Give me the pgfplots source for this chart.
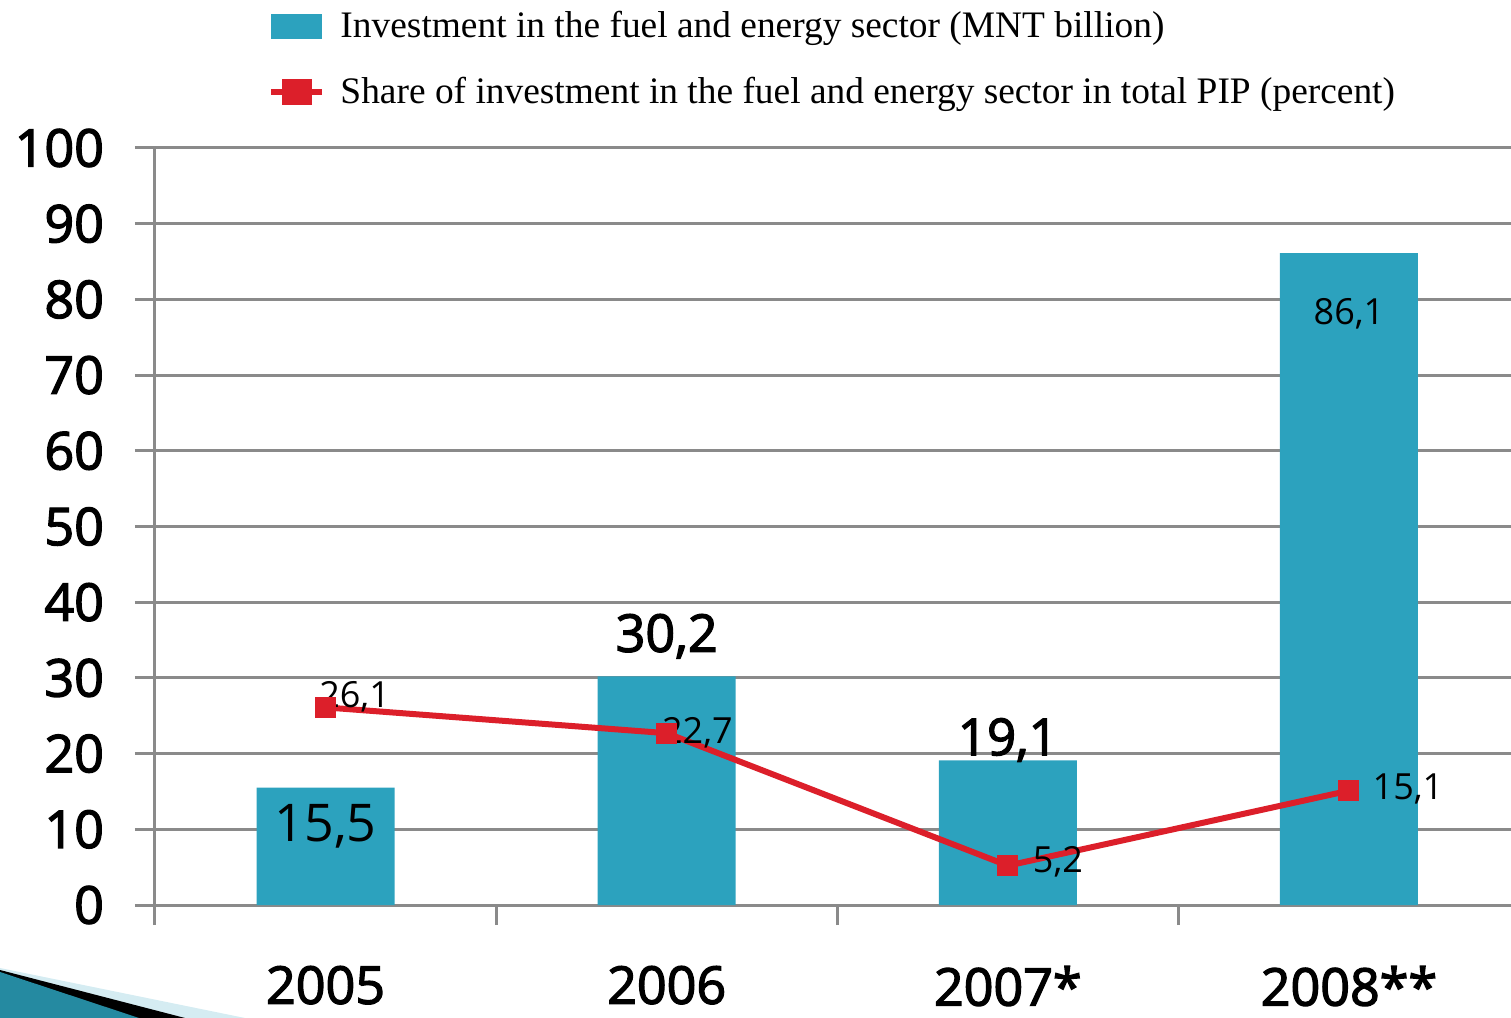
\documentclass[border=0pt]{standalone}
\usepackage{pgfplots}
\pgfplotsset{compat=1.18}
\usepackage{fontspec}
\setmainfont{Liberation Serif}
\newfontfamily\sans{Open Sans}
\newfontfamily\sansmed[FakeBold=2.5]{Open Sans}
\definecolor{barblue}{HTML}{2CA2BE}
\definecolor{linered}{HTML}{DC1F2A}
\definecolor{gridgray}{HTML}{8A8A8A}
\begin{document}
\begin{tikzpicture}
\useasboundingbox (-77.5pt,-56.5pt) rectangle (678pt,452.5pt);
\begin{axis}[
  at={(0pt,0pt)}, anchor=south west,
  scale only axis, width=678pt, height=378.5pt,
  xmin=-0.5, xmax=3.475, ymin=0, ymax=100,
  clip=false,
  axis line style={draw=none},
  tick pos=left,
  ytick={0,10,...,100},
  ymajorgrids,
  grid style={gridgray, line width=1.5pt},
  tick style={gridgray, line width=1.5pt},
  major tick length=10pt,
  tick align=outside,
  xtick={-0.5,0.5,1.5,2.5},
  xticklabels={},
  extra x ticks={0,1,2,3},
  extra x tick labels={2005,2006,2007*,2008**},
  extra x tick style={major tick length=0pt, tick style={draw=none}, xticklabel style={yshift=-27pt}},
  ticklabel style={font=\sansmed\fontsize{26}{28}\selectfont},
  /pgf/number format/assume math mode=true,
  yticklabel style={xshift=-12pt},
  legend style={at={(0.0834,1.186)}, anchor=north west, draw=none, fill=none,
    inner sep=0pt, row sep=14pt, font=\fontsize{18.7}{21}\selectfont,
    nodes={inner sep=2pt},
    /tikz/every odd column/.append style={column sep=5.5pt}},
  legend cell align=left,
]
\addplot[ybar, bar width=69pt, bar shift=0pt, fill=barblue, draw=none,
  legend image code/.code={\fill[barblue] (0pt,-6.25pt) rectangle (25.5pt,6.25pt);}]
  coordinates {(0,15.5) (1,30.2) (2,19.1) (3,86.1)};
\addlegendentry{Investment in the fuel and energy sector (MNT billion)}
\addplot[linered, line width=3pt, mark=square*, mark size=5pt,
  mark options={solid, fill=linered, draw=linered, line width=0pt},
  legend image code/.code={\draw[linered, line width=3pt] (0pt,0pt) -- (25.5pt,0pt);
     \fill[linered] (7pt,-5pt) rectangle (19pt,5pt);}]
  coordinates {(0,26.1) (1,22.7) (2,5.2) (3,15.1)};
\addlegendentry{Share of investment in the fuel and energy sector in total PIP (percent)}
\draw[gridgray, line width=1.5pt] (axis cs:-0.5,-2.3) -- (axis cs:-0.5,100);
\node[font=\sans\fontsize{26}{28}\selectfont] at (axis cs:0,10.4) {15,5};
\node[font=\sansmed\fontsize{26}{28}\selectfont] at (axis cs:1,35.5) {30,2};
\node[font=\sansmed\fontsize{25.5}{28}\selectfont] at (axis cs:2,21.8) {19,1};
\node[font=\sans\fontsize{18}{20}\selectfont] at (axis cs:3,78.1) {86,1};
\node[font=\sans\fontsize{18}{20}\selectfont] at (axis cs:0.085,27.5) {26,1};
\node[font=\sans\fontsize{18}{20}\selectfont] at (axis cs:1.09,22.7) {22,7};
\node[font=\sans\fontsize{18}{20}\selectfont] at (axis cs:2.147,5.7) {5,2};
\node[font=\sans\fontsize{18}{20}\selectfont] at (axis cs:3.173,15.3) {15,1};
\end{axis}
\fill[white!80!barblue] (-77.5pt,-31.5pt) -- (45pt,-56.5pt) -- (-77.5pt,-56.5pt) -- cycle;
\fill[black] (-77.5pt,-32.5pt) -- (15pt,-56.5pt) -- (-77.5pt,-56.5pt) -- cycle;
\fill[barblue!85!black] (-77.5pt,-33.5pt) -- (-8pt,-56.5pt) -- (-77.5pt,-56.5pt) -- cycle;
\end{tikzpicture}
\end{document}
